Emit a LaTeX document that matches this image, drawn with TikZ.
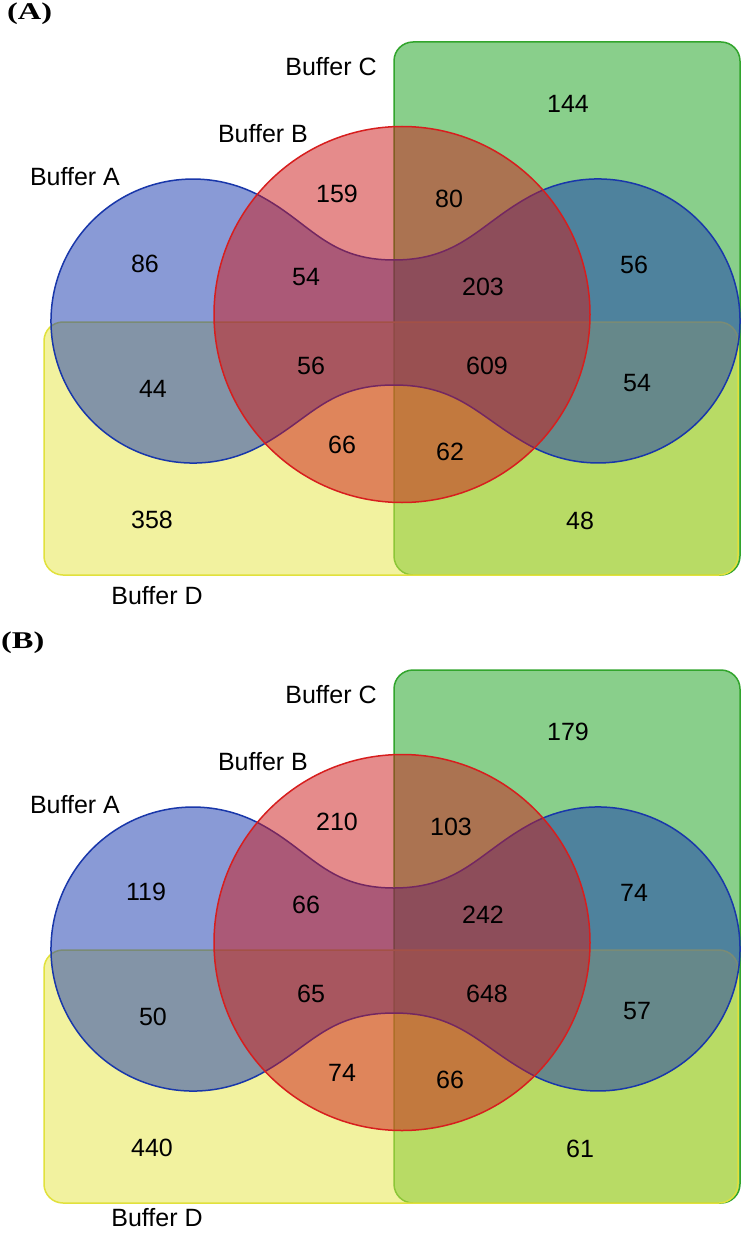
\documentclass[tikz,border=0pt]{standalone}
\usepackage{fontspec}
\setmainfont{Liberation Sans}
\newfontfamily\panelfont{Liberation Serif}
\definecolor{gfill}{RGB}{21,161,25}
\definecolor{gline}{RGB}{50,165,45}
\definecolor{yfill}{RGB}{231,231,65}
\definecolor{yline}{RGB}{225,225,60}
\definecolor{bfill}{RGB}{21,55,175}
\definecolor{bline}{RGB}{25,55,170}
\definecolor{rfill}{RGB}{205,25,25}
\definecolor{rline}{RGB}{215,30,30}
\newcommand\vennshapes{%
  \draw[gset] (394,42) rectangle (740,575);
  \draw[yset] (44,322) rectangle (738,575);
  \draw[bset] (264,444) arc[start angle=60,end angle=300,radius=142]
     .. controls (312,225) and (329,260) .. (394,260)
     .. controls (459,260) and (479,225) .. (527,198)
     arc[start angle=240,end angle=480,radius=142]
     .. controls (479,417) and (459,385) .. (394,385)
     .. controls (329,385) and (312,417) .. (264,444) -- cycle;
  \draw[rset] (402,314.5) circle[radius=188];
}
\begin{document}
\begin{tikzpicture}[x=1pt,y=-1pt,
  gset/.style={draw=gline, fill=gfill, fill opacity=0.5, line width=1.5pt, rounded corners=19pt},
  yset/.style={draw=yline, fill=yfill, fill opacity=0.5, line width=1.5pt, rounded corners=19pt},
  bset/.style={draw=bline, fill=bfill, fill opacity=0.5, line width=1.5pt},
  rset/.style={draw=rline, fill=rfill, fill opacity=0.5, line width=1.5pt},
  setlbl/.style={inner sep=0pt, font=\fontsize{25}{25}\selectfont},
  numlbl/.style={inner sep=0pt, font=\fontsize{25}{25}\selectfont},
  panellbl/.style={inner sep=0pt, anchor=base west, font=\panelfont\bfseries\fontsize{24}{24}\selectfont}]
\useasboundingbox[fill=white] (0,0) rectangle (750,1233);

% ---------------- Panel A ----------------
\node[panellbl] (A-tag) at (7,20) {\scalebox{1.35}[1]{(A)}};
\vennshapes
\node[setlbl] (A-la) at (75,177) {Buffer A};
\node[setlbl] (A-lb) at (263,134) {Buffer B};
\node[setlbl] (A-lc) at (331,67) {Buffer C};
\node[setlbl] (A-ld) at (157,596) {Buffer D};
\node[numlbl] (A-n1) at (568,104) {144};
\node[numlbl] (A-n2) at (337,194) {159};
\node[numlbl] (A-n3) at (449,199) {80};
\node[numlbl] (A-n4) at (145,264) {86};
\node[numlbl] (A-n5) at (306,277) {54};
\node[numlbl] (A-n6) at (483,287) {203};
\node[numlbl] (A-n7) at (634,265) {56};
\node[numlbl] (A-n8) at (153,389) {44};
\node[numlbl] (A-n9) at (311,366) {56};
\node[numlbl] (A-n10) at (487,366) {609};
\node[numlbl] (A-n11) at (637,383) {54};
\node[numlbl] (A-n12) at (342,445) {66};
\node[numlbl] (A-n13) at (450,452) {62};
\node[numlbl] (A-n14) at (152,520) {358};
\node[numlbl] (A-n15) at (580,521) {48};

% ---------------- Panel B ----------------
\node[panellbl] (B-tag) at (1,648) {\scalebox{1.35}[1]{(B)}};
\begin{scope}[shift={(0,628)}]
\vennshapes
\node[setlbl] (B-la) at (75,177) {Buffer A};
\node[setlbl] (B-lb) at (263,134) {Buffer B};
\node[setlbl] (B-lc) at (331,67) {Buffer C};
\node[setlbl] (B-ld) at (157,590) {Buffer D};
\node[numlbl] (B-n1) at (568,104) {179};
\node[numlbl] (B-n2) at (337,194) {210};
\node[numlbl] (B-n3) at (451,199) {103};
\node[numlbl] (B-n4) at (146,264) {119};
\node[numlbl] (B-n5) at (306,277) {66};
\node[numlbl] (B-n6) at (483,287) {242};
\node[numlbl] (B-n7) at (634,265) {74};
\node[numlbl] (B-n8) at (153,389) {50};
\node[numlbl] (B-n9) at (311,366) {65};
\node[numlbl] (B-n10) at (487,366) {648};
\node[numlbl] (B-n11) at (637,383) {57};
\node[numlbl] (B-n12) at (342,445) {74};
\node[numlbl] (B-n13) at (450,452) {66};
\node[numlbl] (B-n14) at (152,520) {440};
\node[numlbl] (B-n15) at (580,521) {61};
\end{scope}
\end{tikzpicture}
\end{document}
